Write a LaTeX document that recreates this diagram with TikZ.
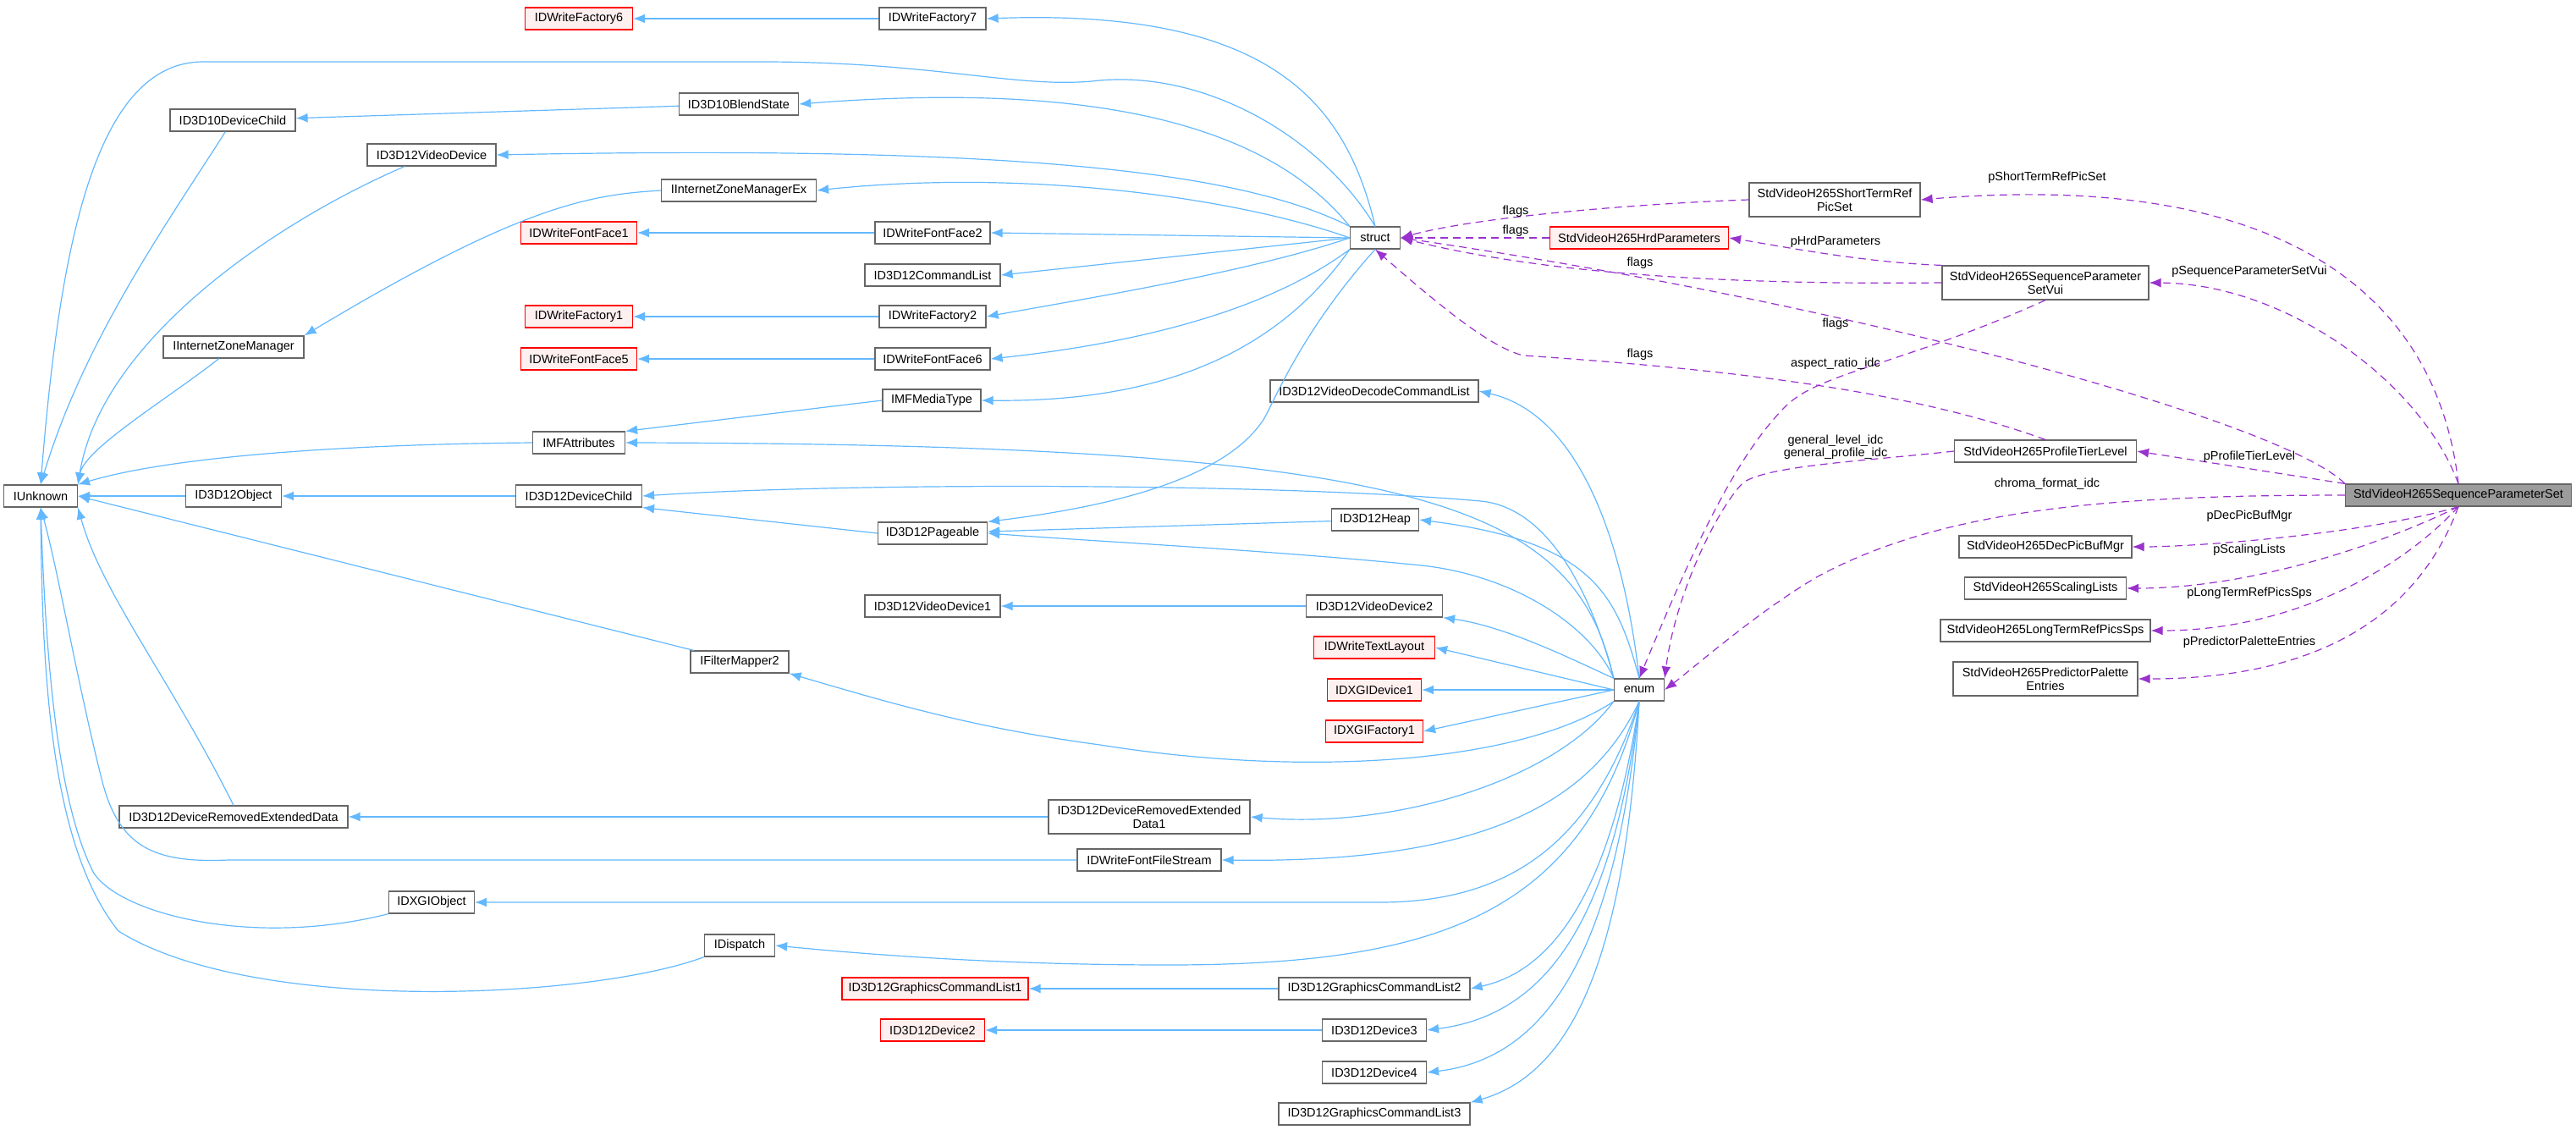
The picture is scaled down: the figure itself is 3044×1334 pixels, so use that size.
\documentclass[tikz,border=0pt]{standalone}
\usepackage{fontspec}
\setmainfont{Liberation Sans}
\usetikzlibrary{arrows.meta}
\definecolor{eb}{RGB}{99,184,255}
\definecolor{ep}{RGB}{154,50,205}
\definecolor{bd}{RGB}{102,102,102}
\begin{document}
\begin{tikzpicture}[x=1pt,y=-1pt,
 every node/.style={font=\fontsize{14.5}{16}\selectfont,inner sep=0pt},
 n/.style={draw=bd,line width=1.2pt,fill=white,minimum height=26pt,align=center},
 r/.style={n,draw=red,fill=red!6},
 g/.style={n,fill=bd!65},
 e/.style={draw=eb,line width=1.2pt,-{Latex[length=14pt,width=11pt]}},
 p/.style={draw=ep,line width=1.2pt,dash pattern=on 9pt off 6pt,-{Latex[length=14pt,width=11pt]}},
 l/.style={font=\fontsize{14.5}{15}\selectfont,align=center}]
\useasboundingbox (0,0) rectangle (3044,1334);
% left columns
\node[n,minimum width=87] (iu) at (48,586) {IUnknown};
\node[n,minimum width=148] (d10dc) at (275,142) {ID3D10DeviceChild};
\node[n,minimum width=166] (izm) at (276,410) {IInternetZoneManager};
\node[n,minimum width=113] (obj) at (276,586) {ID3D12Object};
\node[n,minimum width=270] (dred) at (276,965) {ID3D12DeviceRemovedExtendedData};
\node[n,minimum width=152] (vd) at (510,183) {ID3D12VideoDevice};
\node[n,minimum width=101] (dxo) at (510,1066) {IDXGIObject};
\node[r,minimum width=127] (f6) at (684,22) {IDWriteFactory6};
\node[r,minimum width=137] (ff1) at (684,275) {IDWriteFontFace1};
\node[r,minimum width=127] (f1) at (684,374) {IDWriteFactory1};
\node[r,minimum width=137] (ff5) at (684,424) {IDWriteFontFace5};
\node[n,minimum width=109] (mfa) at (684,523) {IMFAttributes};
\node[n,minimum width=149] (dc) at (684,586) {ID3D12DeviceChild};
\node[n,minimum width=141] (bs) at (873,123) {ID3D10BlendState};
\node[n,minimum width=183] (izmx) at (873,225) {IInternetZoneManagerEx};
\node[n,minimum width=116] (fm) at (874,782) {IFilterMapper2};
\node[n,minimum width=83] (disp) at (874,1117) {IDispatch};
% column 1102
\node[n,minimum width=126] (f7) at (1102,22) {IDWriteFactory7};
\node[n,minimum width=136] (ff2) at (1102,275) {IDWriteFontFace2};
\node[n,minimum width=160] (cl) at (1102,325) {ID3D12CommandList};
\node[n,minimum width=126] (f2) at (1102,374) {IDWriteFactory2};
\node[n,minimum width=136] (ff6) at (1102,424) {IDWriteFontFace6};
\node[n,minimum width=116] (mft) at (1101,473) {IMFMediaType};
\node[n,minimum width=129] (pg) at (1102,630) {ID3D12Pageable};
\node[n,minimum width=160] (vd1) at (1102,716) {ID3D12VideoDevice1};
\node[r,minimum width=220] (gcl1) at (1105,1168) {ID3D12GraphicsCommandList1};
\node[r,minimum width=123] (dv2) at (1102,1217) {ID3D12Device2};
\node[n,minimum width=238,minimum height=40] (dred1) at (1358,965) {ID3D12DeviceRemovedExtended\\Data1};
\node[n,minimum width=170] (wffs) at (1358,1016) {IDWriteFontFileStream};
% column 1624
\node[n,minimum width=59] (st) at (1625,281) {struct};
\node[n,minimum width=246] (vdcl) at (1624,462) {ID3D12VideoDecodeCommandList};
\node[n,minimum width=103] (heap) at (1625,614) {ID3D12Heap};
\node[n,minimum width=161] (vd2) at (1624,716) {ID3D12VideoDevice2};
\node[r,minimum width=143] (tl) at (1624,765) {IDWriteTextLayout};
\node[r,minimum width=111] (dxd1) at (1624,815) {IDXGIDevice1};
\node[r,minimum width=115] (dxf1) at (1624,864) {IDXGIFactory1};
\node[n,minimum width=226] (gcl2) at (1624,1168) {ID3D12GraphicsCommandList2};
\node[n,minimum width=123] (dv3) at (1624,1217) {ID3D12Device3};
\node[n,minimum width=123] (dv4) at (1624,1267) {ID3D12Device4};
\node[n,minimum width=226] (gcl3) at (1624,1316) {ID3D12GraphicsCommandList3};
\node[n,minimum width=59] (en) at (1937,815) {enum};
\node[r,minimum width=211] (hrd) at (1937,281) {StdVideoH265HrdParameters};
% right
\node[n,minimum width=202,minimum height=40] (strps) at (2168,236) {StdVideoH265ShortTermRef\\PicSet};
\node[n,minimum width=244,minimum height=40] (vui) at (2417,334) {StdVideoH265SequenceParameter\\SetVui};
\node[n,minimum width=215] (ptl) at (2417,533) {StdVideoH265ProfileTierLevel};
\node[n,minimum width=204] (dpb) at (2417,646) {StdVideoH265DecPicBufMgr};
\node[n,minimum width=191] (sl) at (2417,695) {StdVideoH265ScalingLists};
\node[n,minimum width=248] (lt) at (2417,745) {StdVideoH265LongTermRefPicsSps};
\node[n,minimum width=218,minimum height=40] (ppe) at (2417,802) {StdVideoH265PredictorPalette\\Entries};
\node[g,minimum width=267] (sps) at (2905,585) {StdVideoH265SequenceParameterSet};
% blue edges
\draw[e] (f7) -- (f6);
\draw[e] (st.north) .. controls (1590,120) and (1500,10) .. (f7.east);
\draw[e] (st.north) .. controls (1560,160) and (1420,80) .. (1290,96) .. controls (1200,104) and (1100,73) .. (900,73) -- (240,73) .. controls (110,73) and (70,300) .. (iu.north);
\draw[e] (st.north west) .. controls (1500,150) and (1300,95) .. (bs.east);
\draw[e] (bs) -- (d10dc);
\draw[e] (d10dc) .. controls (200,260) and (100,400) .. (iu.north);
\draw[e] (st.north west) .. controls (1480,210) and (1250,170) .. (vd.east);
\draw[e] (vd) .. controls (330,260) and (120,400) .. (iu.north east);
\draw[e] (st.west) .. controls (1450,230) and (1200,200) .. (izmx.east);
\draw[e] (izmx.west) .. controls (700,230) and (620,240) .. (izm.north east);
\draw[e] (izm) .. controls (200,470) and (100,530) .. (iu.north east);
\draw[e] (ff2) -- (ff1);
\draw[e] (st.west) -- (ff2.east);
\draw[e] (st.west) -- (cl.east);
\draw[e] (f2) -- (f1);
\draw[e] (st.west) .. controls (1480,320) and (1300,350) .. (f2.east);
\draw[e] (ff6) -- (ff5);
\draw[e] (st.south west) .. controls (1480,380) and (1300,410) .. (ff6.east);
\draw[e] (st.south west) .. controls (1500,430) and (1350,475) .. (mft.east);
\draw[e] (mft.west) -- (mfa.north east);
\draw[e] (mfa.west) .. controls (400,525) and (200,540) .. (iu.north east);
\draw[e] (st.south) .. controls (1530,400) and (1500,490) .. (1490,500) .. controls (1440,570) and (1300,600) .. (pg.north east);
\draw[e] (pg.west) -- (dc.south east);
\draw[e] (dc) -- (obj);
\draw[e] (obj) -- (iu);
\draw[e] (en.north west) .. controls (1860,600) and (1700,525) .. (mfa.east);
\draw[e] (en.north west) .. controls (1880,700) and (1830,600) .. (1750,592) .. controls (1500,570) and (1000,570) .. (dc.east);
\draw[e] (en.north west) .. controls (1880,740) and (1790,680) .. (1680,668) .. controls (1500,650) and (1300,640) .. (pg.east);
\draw[e] (heap) -- (pg);
\draw[e] (en.north) .. controls (1910,700) and (1880,640) .. (heap.east);
\draw[e] (en.north) .. controls (1920,650) and (1870,490) .. (vdcl.east);
\draw[e] (vd2) -- (vd1);
\draw[e] (en.north west) .. controls (1860,780) and (1780,740) .. (vd2.south east);
\draw[e] (en.west) -- (tl.east);
\draw[e] (en.west) -- (dxd1.east);
\draw[e] (en.west) -- (dxf1.east);
\draw[e] (en.south west) .. controls (1800,900) and (1550,920) .. (1300,880) .. controls (1150,860) and (1050,830) .. (fm.south east);
\draw[e] (fm) -- (iu.east);
\draw[e] (en.south west) .. controls (1840,920) and (1650,980) .. (dred1.east);
\draw[e] (dred1) -- (dred);
\draw[e] (dred.north) .. controls (200,800) and (120,700) .. (iu.south east);
\draw[e] (en.south) .. controls (1880,950) and (1750,1020) .. (wffs.east);
\draw[e] (wffs.west) -- (270,1016) .. controls (180,1020) and (140,1000) .. (120,920) .. controls (90,800) and (70,680) .. (iu.south);
\draw[e] (en.south) .. controls (1880,1000) and (1780,1066) .. (1630,1066) -- (dxo.east);
\draw[e] (dxo.south west) .. controls (300,1120) and (140,1080) .. (110,1030) .. controls (70,950) and (55,800) .. (iu.south);
\draw[e] (en.south) .. controls (1870,1080) and (1700,1140) .. (1380,1140) .. controls (1200,1140) and (1050,1130) .. (disp.east);
\draw[e] (disp.south west) .. controls (700,1180) and (300,1200) .. (140,1100) .. controls (60,1000) and (50,800) .. (iu.south);
\draw[e] (gcl2) -- (gcl1);
\draw[e] (en.south) .. controls (1900,1080) and (1820,1150) .. (gcl2.east);
\draw[e] (dv3) -- (dv2);
\draw[e] (en.south) .. controls (1905,1100) and (1820,1200) .. (dv3.east);
\draw[e] (en.south) .. controls (1910,1120) and (1830,1250) .. (dv4.east);
\draw[e] (en.south) .. controls (1920,1150) and (1850,1270) .. (gcl3.north east);
% purple edges
\draw[p] (strps.west) .. controls (1950,240) and (1750,255) .. (st.east);
\draw[p] (hrd.west) -- (st.east);
\draw[p] (vui.west) .. controls (2100,336) and (1850,330) .. (st.east);
\draw[p] (ptl.north) .. controls (2280,470) and (2100,440) .. (1800,420) .. controls (1760,410) and (1700,360) .. (st.south);
\draw[p] (sps.north west) .. controls (2700,500) and (2200,360) .. (st.east);
\draw[p] (vui.south) .. controls (2250,430) and (2150,440) .. (2110,480) .. controls (2050,540) and (2000,650) .. (en.north);
\draw[p] (ptl.west) .. controls (2200,545) and (2090,550) .. (2060,570) .. controls (2030,600) and (1980,700) .. (en.north east);
\draw[p] (sps.west) .. controls (2500,585) and (2300,600) .. (2150,680) .. controls (2080,720) and (2000,790) .. (en.east);
\draw[p] (vui.north west) .. controls (2200,310) and (2100,290) .. (hrd.east);
\draw[p] (sps.north) .. controls (2880,350) and (2700,200) .. (strps.east);
\draw[p] (sps.north) .. controls (2860,450) and (2700,335) .. (vui.east);
\draw[p] (sps.north west) -- (ptl.east);
\draw[p] (sps.south) .. controls (2800,630) and (2600,646) .. (dpb.east);
\draw[p] (sps.south) .. controls (2800,650) and (2650,695) .. (sl.east);
\draw[p] (sps.south) .. controls (2830,680) and (2700,745) .. (lt.east);
\draw[p] (sps.south) .. controls (2860,720) and (2750,802) .. (ppe.east);
% labels
\node[l] (l1) at (1791,250) {flags};
\node[l] (l2) at (1791,273) {flags};
\node[l] (l3) at (1938,311) {flags};
\node[l] (l4) at (1938,419) {flags};
\node[l] (l5) at (2169,383) {flags};
\node[l] (l6) at (2169,430) {aspect\_ratio\_idc};
\node[l] (l7) at (2169,528) {general\_level\_idc\\general\_profile\_idc};
\node[l] (l8) at (2419,572) {chroma\_format\_idc};
\node[l] (l9) at (2169,286) {pHrdParameters};
\node[l] (l10) at (2419,210) {pShortTermRefPicSet};
\node[l] (l11) at (2658,321) {pSequenceParameterSetVui};
\node[l] (l12) at (2658,540) {pProfileTierLevel};
\node[l] (l13) at (2658,610) {pDecPicBufMgr};
\node[l] (l14) at (2658,650) {pScalingLists};
\node[l] (l15) at (2658,701) {pLongTermRefPicsSps};
\node[l] (l16) at (2658,759) {pPredictorPaletteEntries};
\end{tikzpicture}
\end{document}
